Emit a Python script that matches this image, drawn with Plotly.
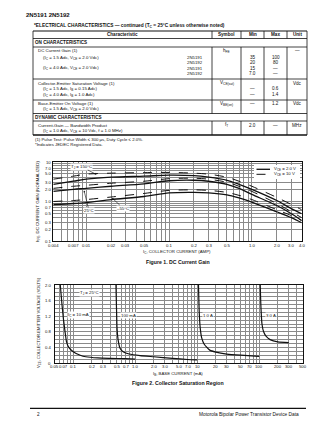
import math
import plotly.graph_objects as go

W, H = 336, 434
def px(x): return x / W
def py(y): return 1 - y / H

# ---------------- data ----------------
# Figure 1: DC current gain vs collector current
ic_amp = [0.004, 0.007, 0.01, 0.02, 0.05, 0.1, 0.2, 0.3, 0.5, 0.7, 1.0, 2.0, 3.0, 4.0]
hfe_150_10v = [3.67, 4.38, 4.92, 5.22, 5.38, 5.44, 5.22, 4.92, 4.12, 3.26, 2.43, 1.27, 0.84, 0.62]
hfe_150_2v = [2.73, 3.26, 3.67, 4.12, 4.38, 4.64, 4.50, 4.12, 3.45, 2.73, 2.03, 1.06, 0.66, 0.49]
hfe_25_10v = [2.15, 2.43, 2.57, 2.90, 3.26, 3.78, 3.89, 3.67, 3.07, 2.43, 1.80, 0.89, 0.55, 0.39]
hfe_25_2v = [1.80, 2.03, 2.15, 2.43, 2.81, 3.35, 3.45, 3.26, 2.73, 2.15, 1.51, 0.79, 0.49, 0.33]
hfe_m55_10v = [1.00, 1.06, 1.12, 1.30, 1.60, 1.91, 1.97, 1.91, 1.70, 1.43, 1.12, 0.62, 0.44, 0.33]
hfe_m55_2v = [0.84, 0.89, 0.94, 1.12, 1.34, 1.65, 1.70, 1.65, 1.47, 1.23, 0.97, 0.55, 0.39, 0.29]
fig1_xticks = [0.004, 0.007, 0.01, 0.02, 0.03, 0.05, 0.1, 0.2, 0.3, 0.5, 1.0, 2.0, 3.0, 4.0]
fig1_xlabels = ["0.004", "0.007", "0.01", "0.02", "0.03", "0.05", "0.1", "0.2", "0.3", "0.5", "1.0", "2.0", "3.0", "4.0"]
fig1_yticks = [0.1, 0.2, 0.3, 0.5, 0.7, 1.0, 2.0, 3.0, 5.0, 7.0, 10]
fig1_ylabels = ["0.1", "0.2", "0.3", "0.5", "0.7", "1.0", "2.0", "3.0", "5.0", "7.0", "10"]

# Figure 2: collector saturation region
ib_10ma = [0.062, 0.066, 0.070, 0.074, 0.078, 0.085, 0.10, 0.13, 0.16, 0.25, 0.4, 0.7, 1.0]
vce_10ma = [2.0, 1.5, 1.1, 0.8, 0.55, 0.4, 0.29, 0.2, 0.16, 0.13, 0.12, 0.11, 0.10]
ib_100ma = [0.49, 0.50, 0.51, 0.53, 0.57, 0.65, 0.8, 1.2, 2.0, 4.0, 7.0, 10]
vce_100ma = [2.0, 1.4, 0.9, 0.6, 0.38, 0.28, 0.23, 0.19, 0.16, 0.12, 0.09, 0.08]
ib_1a = [10.5, 10.8, 11.2, 11.8, 13, 16, 20, 30, 50, 100]
vce_1a = [2.0, 1.3, 0.9, 0.65, 0.48, 0.33, 0.28, 0.23, 0.20, 0.17]
ib_3a = [104, 107, 111, 118, 130, 150, 200, 300]
vce_3a = [2.0, 1.4, 1.0, 0.8, 0.68, 0.60, 0.54, 0.52]
fig2_xticks = [0.05, 0.07, 0.1, 0.2, 0.3, 0.5, 0.7, 1.0, 2.0, 3.0, 5.0, 7.0, 10, 20, 30, 50, 70, 100, 200, 300, 500]
fig2_xlabels = ["0.05", "0.07", "0.1", "0.2", "0.3", "0.5", "0.7", "1.0", "2.0", "3.0", "5.0", "7.0", "10",
                "20", "30", "50", "70", "100", "200", "300", "500"]
fig2_yticks = [0, 0.4, 0.8, 1.2, 1.6, 2.0]
fig2_ylabels = ["0", "0.4", "0.8", "1.2", "1.6", "2.0"]

# Table
tbl_headers = ["Characteristic", "Symbol", "Min", "Max", "Unit"]
tbl_rows = [
    # (y, characteristic text, indent, device, symbol, min, max, unit)
    (50.5, "DC Current Gain (1)", False, "", "h<sub>FE</sub>", "", "", "—"),
    (57.5, "(I<sub>C</sub> = 1.5 Adc, V<sub>CE</sub> = 2.0 Vdc)", True, "2N5191", "", "35", "100", ""),
    (62.5, "", True, "2N5192", "", "20", "80", ""),
    (68.0, "(I<sub>C</sub> = 4.0 Adc, V<sub>CE</sub> = 2.0 Vdc)", True, "2N5191", "", "15", "—", ""),
    (73.0, "", True, "2N5192", "", "7.0", "—", ""),
    (83.5, "Collector-Emitter Saturation Voltage (1)", False, "", "V<sub>CE(sat)</sub>", "", "", "Vdc"),
    (89.0, "(I<sub>C</sub> = 1.5 Adc, I<sub>B</sub> = 0.15 Adc)", True, "", "", "—", "0.6", ""),
    (94.5, "(I<sub>C</sub> = 4.0 Adc, I<sub>B</sub> = 1.0 Adc)", True, "", "", "—", "1.4", ""),
    (103.5, "Base-Emitter On Voltage (1)", False, "", "V<sub>BE(on)</sub>", "—", "1.2", "Vdc"),
    (108.5, "(I<sub>C</sub> = 1.5 Adc, V<sub>CE</sub> = 2.0 Vdc)", True, "", "", "", "", ""),
    (125.3, "Current-Gain — Bandwidth Product", False, "", "f<sub>T</sub>", "2.0", "—", "MHz"),
    (130.5, "(I<sub>C</sub> = 1.0 Adc, V<sub>CE</sub> = 10 Vdc, f = 1.0 MHz)", True, "", "", "", "", ""),
]

# ---------------- figure ----------------
FONT = "Liberation Sans, Arial, sans-serif"
TXT = "#111111"
fig = go.Figure()

def curve(x, y, xa, ya, dash="solid", width=1.3):
    fig.add_trace(go.Scatter(x=x, y=y, xaxis=xa, yaxis=ya, mode="lines",
                             line=dict(color="#111", width=width, dash=dash, shape="spline", smoothing=0.8),
                             showlegend=False, hoverinfo="skip"))

curve(ic_amp, hfe_150_10v, "x", "y", "dash", 1.0)
curve(ic_amp, hfe_150_2v, "x", "y")
curve(ic_amp, hfe_25_10v, "x", "y", "dash", 1.0)
curve(ic_amp, hfe_25_2v, "x", "y")
curve(ic_amp, hfe_m55_10v, "x", "y", "dash", 1.0)
curve(ic_amp, hfe_m55_2v, "x", "y")

def curve2(x, y):
    fig.add_trace(go.Scatter(x=x, y=y, xaxis="x2", yaxis="y2", mode="lines",
                             line=dict(color="#111", width=1.2, shape="spline", smoothing=0.5),
                             showlegend=False, hoverinfo="skip", cliponaxis=True))

curve2(ib_10ma, vce_10ma)
curve2(ib_100ma, vce_100ma)
curve2(ib_1a, vce_1a)
curve2(ib_3a, vce_3a)

def log_grid(lo_exp, hi_exp, lo, hi):
    vals = []
    for e in range(lo_exp, hi_exp + 1):
        for k in range(1, 10):
            v = k * 10 ** e
            if lo * 0.999 <= v <= hi * 1.001:
                vals.append(v)
    return vals

GRID = "#8a8a8a"
common_axis = dict(showline=True, linecolor="#111", linewidth=1, mirror=True, ticks="",
                   showticklabels=False, showgrid=False, zeroline=False,
                   tickmode="array", tickvals=[])

def minor(vals):
    return dict(tickmode="array", tickvals=vals, showgrid=True, gridcolor=GRID, gridwidth=0.55, ticks="")

fig.update_layout(
    width=W, height=H, margin=dict(l=0, r=0, t=0, b=0),
    paper_bgcolor="white", plot_bgcolor="white", showlegend=False,
    font=dict(family=FONT, size=5, color=TXT),
    xaxis=dict(type="log", domain=[px(53.3), px(301.7)],
               range=[math.log10(0.004), math.log10(4.0)], anchor="y",
               minor=minor(log_grid(-3, 0, 0.004, 4.0)), **common_axis),
    yaxis=dict(type="log", domain=[py(241), py(162)], range=[-1, 1], anchor="x",
               minor=minor(log_grid(-1, 1, 0.1, 10)), **common_axis),
    xaxis2=dict(type="log", domain=[px(54.5), px(302.5)],
                range=[math.log10(0.05), math.log10(500)], anchor="y2",
                minor=minor(log_grid(-2, 2, 0.05, 500)), **common_axis),
    yaxis2=dict(type="linear", domain=[py(363), py(285)], range=[0, 2.0], anchor="x2",
                minor=minor([i / 10 for i in range(21)]), **common_axis),
)

ann = []
def t(x, y, text, size=4.6, bold=False, anchor="left", color=TXT, angle=0, bg=None):
    d = dict(x=px(x), y=py(y), xref="paper", yref="paper", text=f"<b>{text}</b>" if bold else text,
             showarrow=False, xanchor=anchor, yanchor="middle", textangle=angle,
             font=dict(family=FONT, size=size, color=color), borderpad=0)
    if bg:
        d["bgcolor"] = bg
    ann.append(d)

# tick labels placed through the axes' own scales
TICK = dict(family=FONT, size=4.2, color=TXT)
def xticklabels(axis, vals, labels, ypix, logaxis=True):
    for v, s in zip(vals, labels):
        ann.append(dict(x=math.log10(v) if logaxis else v, xref=axis, y=py(ypix), yref="paper",
                        text=s, showarrow=False, xanchor="center", yanchor="middle",
                        font=TICK, borderpad=0))
def yticklabels(axis, vals, labels, xpix, logaxis=True):
    for v, s in zip(vals, labels):
        ann.append(dict(y=math.log10(v) if logaxis else v, yref=axis, x=px(xpix), xref="paper",
                        text=s, showarrow=False, xanchor="right", yanchor="middle",
                        font=TICK, borderpad=0))

xticklabels("x", fig1_xticks, fig1_xlabels, 245.5)
yticklabels("y", fig1_yticks, fig1_ylabels, 51.5)
xticklabels("x2", fig2_xticks, fig2_xlabels, 366.8)
yticklabels("y2", fig2_yticks, fig2_ylabels, 52.0, logaxis=False)

shapes = []
def line(x0, y0, x1, y1, w=0.8, dash="solid", color="#111"):
    shapes.append(dict(type="line", xref="paper", yref="paper", x0=px(x0), y0=py(y0), x1=px(x1), y1=py(y1),
                       line=dict(color=color, width=w, dash=dash)))

# page header
t(25, 15, "2N5191 2N5192", 6, True)
t(33, 26, "*ELECTRICAL CHARACTERISTICS — continued (T<sub>C</sub> = 25°C unless otherwise noted)", 4.8, True)

# table grid
L, R = 33, 307
cols = [212, 241, 264, 287]
line(L, 31, R, 31, 1.2)
line(L, 38.5, R, 38.5, 0.8)
for yy in [47, 79, 100, 113.5, 121]:
    line(L, yy, R, yy, 0.8)
line(L, 135, R, 135, 1.4)
line(L, 31, L, 135, 0.8)
line(R, 31, R, 135, 0.8)
for c in cols:
    line(c, 31, c, 38.5, 0.8)
    line(c, 47, c, 113.5, 0.8)
    line(c, 121, c, 135, 0.8)

col_centers = [123, 226.5, 252.5, 275.5, 297]
for cx, h in zip(col_centers, tbl_headers):
    t(cx, 34.8, h, 4.6, True, "center")
t(33.5, 43, "ON CHARACTERISTICS", 4.6, True)
t(33.5, 117.3, "DYNAMIC CHARACTERISTICS", 4.6, True)
for (yy, ch, indent, dev, sym, mn, mx, unit) in tbl_rows:
    if ch:
        t(41.5 if indent else 36.5, yy, ch, 4.4)
    if dev:
        t(204, yy, dev, 4.3, False, "right")
    if sym:
        t(col_centers[1], yy, sym, 4.6, False, "center")
    if mn:
        t(col_centers[2], yy, mn, 4.6, False, "center")
    if mx:
        t(col_centers[3], yy, mx, 4.6, False, "center")
    if unit:
        t(col_centers[4], yy, unit, 4.6, False, "center")
t(33.5, 139.5, "(1) Pulse Test: Pulse Width ≤ 300 μs, Duty Cycle ≤ 2.0%.", 4.3)
t(33.5, 144.5, "*Indicates JEDEC Registered Data.", 4.3)

# figure 1 annotations
t(38, 202, "h<sub>FE</sub>, DC CURRENT GAIN (NORMALIZED)", 4.3, False, "center", angle=-90)
t(177, 252, "I<sub>C</sub>, COLLECTOR CURRENT (AMP)", 4.3, False, "center")
t(178, 261.5, "Figure 1. DC Current Gain", 5.2, True, "center")
shapes.append(dict(type="rect", xref="paper", yref="paper", x0=px(254), y0=py(179), x1=px(300), y1=py(165),
                   fillcolor="white", line=dict(width=0)))
line(256.5, 169.3, 270, 169.3, 1.3)
line(256.5, 174.3, 270, 174.3, 1.0, "dash")
t(273, 169.3, "V<sub>CE</sub> = 2.0 V", 4.3)
t(273, 174.3, "V<sub>CE</sub> = 10 V", 4.3)

def arrow(tx, ty, hx, hy, text, size=4.3):
    ann.append(dict(x=px(hx), y=py(hy), xref="paper", yref="paper", ax=tx - hx, ay=ty - hy,
                    axref="pixel", ayref="pixel", text=text, showarrow=True, arrowhead=2,
                    arrowsize=0.6, arrowwidth=0.6, arrowcolor="#111", standoff=0,
                    font=dict(family=FONT, size=size, color=TXT), bgcolor="white", borderpad=0))

arrow(81, 166.5, 96.5, 174.5, "T<sub>J</sub> = 150°C")
arrow(89, 210.5, 84, 190.5, "25°C")
arrow(123, 208, 112, 198, "–55°C")

# figure 2 annotations
t(39, 323, "V<sub>CE</sub>, COLLECTOR-EMITTER VOLTAGE (VOLTS)", 4.1, False, "center", angle=-90)
t(178, 373.5, "I<sub>B</sub>, BASE CURRENT (mA)", 4.3, False, "center")
t(178, 383, "Figure 2. Collector Saturation Region", 5.2, True, "center")
t(79, 293, "T<sub>J</sub> = 25°C", 4.3, bg="white")
t(67, 315, "I<sub>C</sub> = 10 mA", 4.3, bg="white")
t(120, 315, "100 mA", 4.3, bg="white")
t(202, 315, "1.0 A", 4.3, bg="white")
t(265, 315, "3.0 A", 4.3, bg="white")

# footer
line(30, 408.3, 306, 408.3, 1.3)
t(36, 414.5, "2", 4.6)
t(300, 414.5, "Motorola Bipolar Power Transistor Device Data", 4.8, False, "right")

fig.update_layout(annotations=ann, shapes=shapes)
fig.write_html("out.html")
